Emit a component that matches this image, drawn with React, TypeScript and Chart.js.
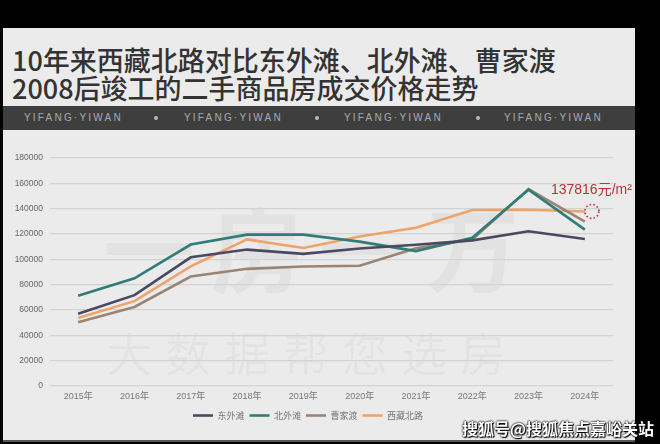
import React, { useEffect, useRef } from "react";
import { Chart, registerables } from "chart.js";

Chart.register(...registerables);

const years = ["2015年", "2016年", "2017年", "2018年", "2019年", "2020年", "2021年", "2022年", "2023年", "2024年"];
const seriesNames = ["东外滩", "北外滩", "曹家渡", "西藏北路"];
const dongWaitan = [57000, 71700, 101600, 107700, 104300, 108500, 111500, 115000, 122200, 116000];
const beiWaitan = [71200, 85000, 111700, 119500, 119500, 114000, 106500, 117000, 155000, 123500];
const caojiadu = [50400, 62400, 86400, 92500, 94400, 94900, 108800, 115700, 155500, 129800];
const xizangBeilu = [53600, 67000, 94400, 115700, 109000, 118000, 125000, 139000, 139200, 137816];
const seriesColors = ["#4a4960", "#317c78", "#9a8574", "#eea36b"];
const yTicksMax = 180000;
const yTickStep = 20000;
const noteValue = 137816;
const noteText = "137816元/m²";
const titleLines = ["10年来西藏北路对比东外滩、北外滩、曹家渡", "2008后竣工的二手商品房成交价格走势"];
const bandText = "YIFANG·YIWAN";

const notePlugin = {
  id: "priceNote",
  afterDatasetsDraw(chart: any) {
    const { ctx, scales } = chart;
    const px = scales.x.getPixelForValue(years.length - 1) + 7;
    const py = scales.y.getPixelForValue(noteValue);
    ctx.save();
    ctx.strokeStyle = "#b8323a";
    ctx.lineWidth = 1.6;
    ctx.setLineDash([1.6, 2.2]);
    ctx.beginPath();
    ctx.ellipse(px, py, 7, 7, 0, 0, Math.PI * 2);
    ctx.stroke();
    ctx.setLineDash([]);
    ctx.fillStyle = "#b8323a";
    ctx.font = "14px 'Liberation Sans', 'Noto Sans CJK SC', sans-serif";
    ctx.textAlign = "right";
    ctx.textBaseline = "middle";
    ctx.fillText(noteText, px + 40, py - 21);
    ctx.restore();
  },
};

function LineChart() {
  const ref = useRef<HTMLCanvasElement | null>(null);
  useEffect(() => {
    if (!ref.current) return;
    const data = [dongWaitan, beiWaitan, caojiadu, xizangBeilu];
    const chart = new Chart(ref.current, {
      type: "line",
      data: {
        labels: years,
        datasets: seriesNames.map((name, i) => ({
          label: name,
          data: data[i],
          borderColor: seriesColors[i],
          backgroundColor: seriesColors[i],
          borderWidth: 2.6,
          pointRadius: 0,
          pointHoverRadius: 0,
          tension: 0,
          fill: false,
        })),
      },
      options: {
        animation: false,
        responsive: false,
        devicePixelRatio: 1,
        layout: { padding: { top: 18, right: 22, bottom: 10, left: 0 } },
        plugins: {
          legend: {
            position: "bottom",
            labels: {
              usePointStyle: true,
              pointStyle: "line",
              pointStyleWidth: 20,
              padding: 5,
              color: "#777",
              font: { size: 9, family: "'Noto Sans CJK SC', sans-serif" },
            },
          },
          tooltip: { enabled: false },
        },
        scales: {
          x: {
            offset: true,
            grid: { display: false, drawTicks: false },
            border: { display: false },
            ticks: {
              color: "#777",
              padding: 5,
              maxRotation: 0,
              font: { size: 9, family: "'Liberation Sans', 'Noto Sans CJK SC', sans-serif" },
            },
            afterFit: (s: any) => {
              s.height = 20;
            },
          },
          y: {
            min: 0,
            max: yTicksMax,
            ticks: {
              stepSize: yTickStep,
              color: "#666",
              padding: 7,
              font: { size: 8.5, family: "'Liberation Sans', sans-serif" },
              callback: (v: any) => String(v),
            },
            grid: { color: "#d3d3d3", lineWidth: 1.3, drawTicks: false },
            border: { display: false },
            afterFit: (s: any) => {
              s.width = 47;
            },
          },
        },
      },
      plugins: [notePlugin],
    });
    return () => chart.destroy();
  }, []);
  return <canvas ref={ref} width={632} height={300} style={{ width: 632, height: 300, display: "block" }} />;
}

export default function App() {
  const bands = [0, 1, 2, 3];
  return (
    <div style={{ position: "fixed", left: 0, top: 0, width: 660, height: 444, background: "#000", overflow: "hidden" }}>
      <div style={{ position: "absolute", left: 3, top: 28, width: 632, height: 412, background: "#ebebeb", borderBottom: "2px solid #555" }} />
      <div
        style={{
          position: "absolute",
          left: 12,
          top: 46,
          fontFamily: "'Noto Sans CJK SC', sans-serif",
          fontSize: 27,
          lineHeight: "28px",
          fontWeight: 500,
          color: "#333",
          whiteSpace: "nowrap",
        }}
      >
        {titleLines.map((t) => (
          <div key={t}>{t}</div>
        ))}
      </div>
      <div style={{ position: "absolute", left: 3, top: 106, width: 632, height: 24, background: "#3e3e3e" }} />
      {bands.map((i) => (
        <div
          key={i}
          style={{
            position: "absolute",
            left: 24 + i * 160,
            top: 106,
            height: 24,
            lineHeight: "24px",
            fontFamily: "'Liberation Sans', sans-serif",
            fontSize: 10,
            letterSpacing: 2.2,
            color: "#aaa",
            whiteSpace: "nowrap",
          }}
        >
          {bandText}
        </div>
      ))}
      {[0, 1, 2].map((i) => (
        <div
          key={"b" + i}
          style={{ position: "absolute", left: 154 + i * 161, top: 116, width: 4, height: 4, borderRadius: 2, background: "#bbb" }}
        />
      ))}
      <div
        style={{
          position: "absolute",
          left: 103,
          top: 178,
          fontFamily: "'Noto Sans CJK SC', sans-serif",
          fontSize: 92,
          letterSpacing: 16,
          fontWeight: 700,
          color: "rgba(0,0,0,0.035)",
          whiteSpace: "nowrap",
        }}
      >
        一房一万
      </div>
      <div
        style={{
          position: "absolute",
          left: 106,
          top: 318,
          fontFamily: "'Noto Sans CJK SC', sans-serif",
          fontSize: 46,
          letterSpacing: 13,
          color: "rgba(0,0,0,0.04)",
          whiteSpace: "nowrap",
        }}
      >
        大数据帮您选房
      </div>
      <div style={{ position: "absolute", left: 3, top: 140 }}>
        <LineChart />
      </div>
      <div
        style={{
          position: "absolute",
          left: 462,
          top: 418,
          fontFamily: "'Noto Sans CJK SC', sans-serif",
          fontSize: 16,
          lineHeight: "20px",
          fontWeight: 700,
          color: "#fff",
          whiteSpace: "nowrap",
          textShadow: "0 0 2px #000, 0 0 2px #000, 1px 1px 1px #000",
        }}
      >
        搜狐号@搜狐焦点嘉峪关站
      </div>
    </div>
  );
}
